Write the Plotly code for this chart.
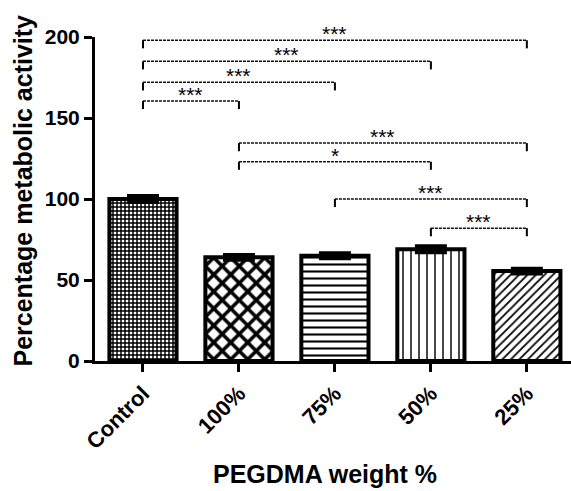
import plotly.graph_objects as go

categories = ["Control", "100%", "75%", "50%", "25%"]
means = [100, 64, 65, 69, 55.5]
errors = [1.8, 1.5, 1.5, 1.8, 1.5]
y_ticks = [0, 50, 100, 150, 200]

pattern_shapes = ["+", "x", "-", "|", "/"]
pattern_sizes = [4, 12, 7, 8, 6]
pattern_solid = [0.6, 0.5, 0.3, 0.18, 0.3]

br_start = [0, 0, 0, 0, 1, 1, 2, 3]
br_end = [4, 3, 2, 1, 4, 3, 4, 4]
br_y = [198, 185, 172, 160.5, 134.5, 123, 100, 82]
br_label = ["***", "***", "***", "***", "***", "*", "***", "***"]

FONT = "Arial, Liberation Sans, sans-serif"
fig = go.Figure()

fig.add_trace(go.Bar(
    x=list(range(len(categories))), y=means, width=0.7,
    marker=dict(color="white", line=dict(color="black", width=4),
                pattern=dict(shape=pattern_shapes, size=pattern_sizes,
                             solidity=pattern_solid, fgcolor="black",
                             bgcolor="white", fillmode="replace")),
    error_y=dict(type="data", array=errors, visible=True, color="black",
                 thickness=4, width=16),
    showlegend=False,
))

tick_drop = 5
for s, e, yv, lab in zip(br_start, br_end, br_y, br_label):
    fig.add_trace(go.Scatter(x=[s, e], y=[yv, yv], mode="lines",
                             line=dict(color="#111", width=1.5, dash="3px,1px"),
                             showlegend=False, hoverinfo="skip", cliponaxis=False))
    for xx in (s, e):
        fig.add_trace(go.Scatter(x=[xx, xx], y=[yv, yv - tick_drop], mode="lines",
                                 line=dict(color="black", width=2),
                                 showlegend=False, hoverinfo="skip", cliponaxis=False))
    fig.add_annotation(x=(s + e) / 2, y=yv, text=lab, showarrow=False,
                       yanchor="bottom", yshift=-7,
                       font=dict(family=FONT, size=21, color="black"))

fig.add_annotation(xref="paper", yref="paper", x=-0.152, y=0.525,
                   text="<b>Percentage metabolic activity</b>", textangle=-90,
                   showarrow=False, xanchor="center", yanchor="middle",
                   font=dict(family=FONT, size=25, color="black"))
fig.add_annotation(xref="paper", yref="paper", x=0.483, y=-0.35,
                   text="<b>PEGDMA weight %</b>",
                   showarrow=False, xanchor="center", yanchor="middle",
                   font=dict(family=FONT, size=25, color="black"))

fig.update_layout(
    width=571, height=491,
    margin=dict(l=95, r=0, t=37, b=130),
    plot_bgcolor="white", paper_bgcolor="white",
)
fig.update_xaxes(
    range=[-0.5, 4.46], tickmode="array", tickvals=list(range(len(categories))),
    ticktext=categories, tickangle=-45, automargin=False,
    tickfont=dict(family=FONT, size=22, color="black", weight="bold"),
    showline=True, linecolor="black", linewidth=3,
    ticks="outside", ticklen=8, tickwidth=2.5, tickcolor="black",
    showgrid=False, zeroline=False,
)
fig.update_yaxes(
    range=[0, 200], tickvals=y_ticks, automargin=False,
    tickfont=dict(family=FONT, size=21, color="black", weight="bold"),
    showline=True, linecolor="black", linewidth=3,
    ticks="outside", ticklen=8, tickwidth=2.5, tickcolor="black",
    showgrid=False, zeroline=False,
)

fig.write_html("out.html")
